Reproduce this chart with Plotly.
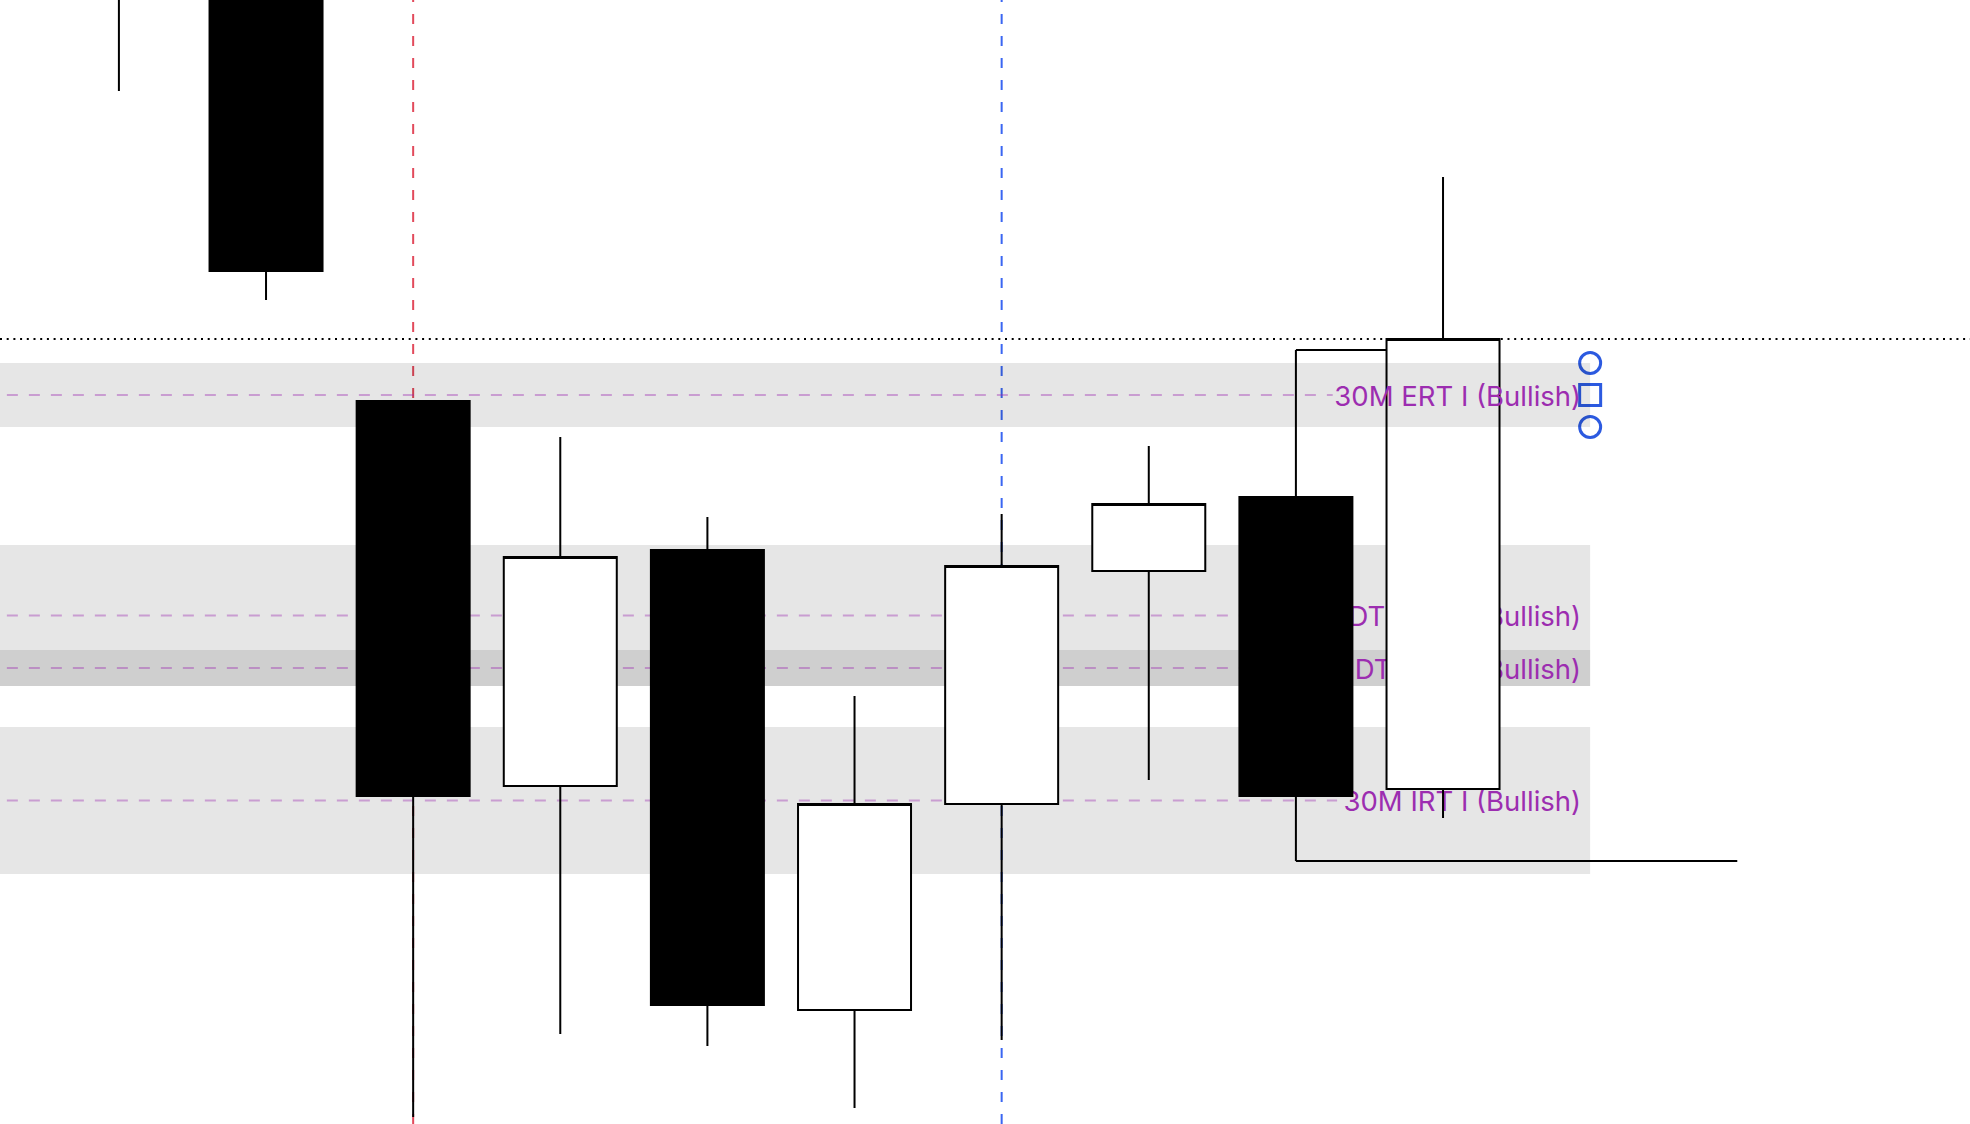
import plotly.graph_objects as go

# ---------------- data ----------------
bar_index = [0, 1, 2, 3, 4, 5, 6, 7, 8, 9]
open_  = [2675.10, 2673.68, 2664.46, 2656.76, 2661.48, 2652.28, 2656.40, 2661.06, 2662.54, 2656.70]
high   = [2681.20, 2674.30, 2664.46, 2663.74, 2662.14, 2658.56, 2662.20, 2663.56, 2665.48, 2668.94]
low    = [2670.66, 2666.48, 2650.14, 2651.80, 2651.56, 2650.32, 2651.68, 2656.88, 2655.26, 2656.12]
close  = [2678.90, 2667.06, 2656.56, 2661.34, 2652.38, 2656.40, 2661.16, 2662.40, 2656.56, 2665.70]

zone_labels = ["30M ERT I (Bullish)", "30M IDT I High (Bullish)",
               "30M IDT I Low (Bullish)", "30M IRT I (Bullish)"]
zone_top    = [2665.22, 2661.58, 2659.48, 2657.94]
zone_bottom = [2663.94, 2658.76, 2658.76, 2655.00]
zone_end_bar = 10
zone_line_end = [8.25, 7.84, 7.84, 8.28]

red_marker_bar = 2
blue_marker_bar = 6
swing_bar = 8
swing_high_end_bar = 9
swing_low_end_bar = 11

x_range = [-0.8082, 12.5818]
y_range = [2650.0, 2672.48]

# ---------------- figure ----------------
fig = go.Figure()

ZONE_FILL = "rgba(0,0,0,0.098)"
MID_COLOR = "rgba(156,39,176,0.38)"
LABEL_FONT = dict(family="Inter", size=27.5, color="#9c2db0")

shapes = []
# lower zones (below candles)
for i in range(1, 4):
    shapes.append(dict(type="rect", xref="x", yref="y", layer="below",
                       x0=x_range[0] - 1, x1=zone_end_bar,
                       y0=zone_bottom[i], y1=zone_top[i],
                       fillcolor=ZONE_FILL, line=dict(width=0),
                       label=dict(text=zone_labels[i], textposition="middle right",
                                  font=LABEL_FONT, padding=6)))
for i in range(1, 4):
    mid = (zone_top[i] + zone_bottom[i]) / 2
    shapes.append(dict(type="line", xref="x", yref="y", layer="below",
                       x0=x_range[0] - 1, x1=zone_line_end[i], y0=mid, y1=mid,
                       line=dict(color=MID_COLOR, width=2, dash="11px,11px")))

# vertical markers
shapes.append(dict(type="line", xref="x", yref="paper", layer="below",
                   x0=red_marker_bar, x1=red_marker_bar, y0=0, y1=1,
                   line=dict(color="#e24a5b", width=2, dash="10px,12px")))
shapes.append(dict(type="line", xref="x", yref="paper", layer="below",
                   x0=blue_marker_bar, x1=blue_marker_bar, y0=0, y1=1,
                   line=dict(color="#3a66f2", width=2, dash="10px,12px")))

# swing high / low lines of candle 8
shapes.append(dict(type="line", xref="x", yref="y", layer="below",
                   x0=swing_bar, x1=swing_high_end_bar,
                   y0=high[swing_bar], y1=high[swing_bar],
                   line=dict(color="black", width=2)))
shapes.append(dict(type="line", xref="x", yref="y", layer="below",
                   x0=swing_bar, x1=swing_low_end_bar,
                   y0=low[swing_bar], y1=low[swing_bar],
                   line=dict(color="black", width=2)))

# top zone (above candles, selected)
shapes.append(dict(type="rect", xref="x", yref="y", layer="above",
                   x0=x_range[0] - 1, x1=zone_end_bar,
                   y0=zone_bottom[0], y1=zone_top[0],
                   fillcolor=ZONE_FILL, line=dict(width=0),
                   label=dict(text=zone_labels[0], textposition="middle right",
                              font=LABEL_FONT, padding=6)))
mid0 = (zone_top[0] + zone_bottom[0]) / 2
shapes.append(dict(type="line", xref="x", yref="y", layer="above",
                   x0=x_range[0] - 1, x1=zone_line_end[0], y0=mid0, y1=mid0,
                   line=dict(color=MID_COLOR, width=2, dash="11px,11px")))

# last price dotted line
shapes.append(dict(type="line", xref="paper", yref="y", layer="above",
                   x0=0, x1=1, y0=close[-1], y1=close[-1],
                   line=dict(color="black", width=2, dash="2px,4.7px")))

fig.add_trace(go.Candlestick(
    x=bar_index, open=open_, high=high, low=low, close=close,
    increasing=dict(line=dict(color="black", width=2), fillcolor="white"),
    decreasing=dict(line=dict(color="black", width=2), fillcolor="black"),
    whiskerwidth=0, showlegend=False, hoverinfo="skip"))

# selection handles of the top zone
handle_y = [zone_top[0], mid0, zone_bottom[0]]
fig.add_trace(go.Scatter(
    x=[zone_end_bar] * 3, y=handle_y, mode="markers",
    marker=dict(symbol=["circle-open", "square-open", "circle-open"], size=21,
                color="#2c5ae0", line=dict(width=3, color="#2c5ae0")),
    showlegend=False, hoverinfo="skip"))

fig.update_layout(
    width=1970, height=1124,
    margin=dict(l=0, r=0, t=0, b=0),
    paper_bgcolor="white", plot_bgcolor="white",
    shapes=shapes,
    boxgap=0.232, boxgroupgap=0,
    showlegend=False,
    xaxis=dict(range=x_range, visible=False, rangeslider=dict(visible=False),
               showgrid=False, zeroline=False, fixedrange=True),
    yaxis=dict(range=y_range, visible=False, showgrid=False, zeroline=False,
               fixedrange=True),
)

fig.write_html("out.html", config={"displayModeBar": False},
               post_script="document.body.style.margin='0';document.body.style.overflow='hidden';")
